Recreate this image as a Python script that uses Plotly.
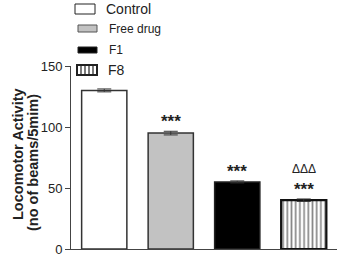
import plotly.graph_objects as go

groups = ["Control", "Free drug", "F1", "F8"]
values = [130, 95, 55, 40]
errors = [1.2, 1.5, 0.8, 1.0]
stars = ["", "***", "***", "***"]
deltas = ["", "", "", "ΔΔΔ"]
fills = ["white", "#c2c2c2", "black", "white"]
patterns = ["", "", "", "|"]
yticks = [0, 50, 100, 150]
ytitle = ["Locomotor Activity", "(no of beams/5mim)"]

W, H = 339, 262
L, R, T, B = 71, 2, 66, 13
PW, PH = W - L - R, H - T - B

def px(x):
    return (x - L) / PW

def py(y):
    return (H - B - y) / PH

outline = ["#333333", "#333333", "#222222", "#111111"]
outw = [1.5, 1.5, 1.5, 2.2]

fig = go.Figure()
for i, g in enumerate(groups):
    fig.add_trace(go.Bar(
        x=[g], y=[values[i]], name=g,
        marker=dict(color=fills[i], line=dict(color=outline[i], width=outw[i]),
                    pattern=dict(shape=patterns[i], fgcolor="#111", size=4.2, solidity=0.4)),
        error_y=dict(type="data", array=[errors[i]], color="#333333", thickness=1, width=7),
        width=0.68,
    ))

for i, g in enumerate(groups):
    if stars[i]:
        fig.add_annotation(x=g, y=values[i] + errors[i], yshift=-2, text="<b>" + stars[i] + "</b>",
                           showarrow=False, yanchor="bottom", font=dict(size=17, color="#222"))
    if deltas[i]:
        fig.add_annotation(x=g, y=values[i] + errors[i], yshift=21, text=deltas[i],
                           showarrow=False, yanchor="bottom", font=dict(size=12, color="#222"))

# legend drawn by hand (decoration)
leg = [
    # name, box x0, y0, x1, y1, text x, text y, font size
    ("Control", 75, 4, 95, 14, 104, 9, 14),
    ("Free drug", 78, 25, 97, 32, 107, 29, 12),
    ("F1", 78, 47, 97, 53, 107, 50, 12),
    ("F8", 77, 65, 97, 75, 106, 70, 14),
]
for i, (name, x0, y0, x1, y1, tx, ty, fs) in enumerate(leg):
    lw = 2 if i == 3 else 1
    fig.add_shape(type="rect", xref="paper", yref="paper",
                  x0=px(x0), x1=px(x1), y0=py(y1), y1=py(y0),
                  fillcolor=fills[i], line=dict(color="#222" if i != 1 else "#555", width=lw))
    if patterns[i] == "|":
        for k in range(1, 5):
            xx = x0 + k * (x1 - x0) / 5
            fig.add_shape(type="line", xref="paper", yref="paper",
                          x0=px(xx), x1=px(xx), y0=py(y1), y1=py(y0),
                          line=dict(color="#222", width=1.2))
    fig.add_annotation(xref="paper", yref="paper", x=px(tx), y=py(ty), text=name,
                       showarrow=False, xanchor="left", yanchor="middle",
                       font=dict(size=fs, color="#222"))

# y-axis title as two rotated lines
for (txt, cx, cy) in [(ytitle[0], 18, 154), (ytitle[1], 33, 163)]:
    fig.add_annotation(xref="paper", yref="paper", x=px(cx), y=py(cy), text="<b>" + txt + "</b>",
                       textangle=-90, showarrow=False, xanchor="center", yanchor="middle",
                       font=dict(size=14.5, color="#222"))

fig.update_layout(
    width=W, height=H,
    margin=dict(l=L, r=R, t=T, b=B),
    paper_bgcolor="white", plot_bgcolor="white",
    barmode="overlay",
    font=dict(family="Liberation Sans, Arial, sans-serif", color="#222"),
    showlegend=False,
    xaxis=dict(range=[-0.5, 3.5], showticklabels=False, ticks="", showline=True,
               linecolor="#444", linewidth=1, showgrid=False, zeroline=False, fixedrange=True),
    yaxis=dict(range=[0, 150], tickvals=yticks, ticks="outside", ticklen=5, tickcolor="#444",
               showline=True, linecolor="#444", linewidth=1, showgrid=False, zeroline=False,
               tickfont=dict(size=13)),
)

fig.write_html("out.html")
